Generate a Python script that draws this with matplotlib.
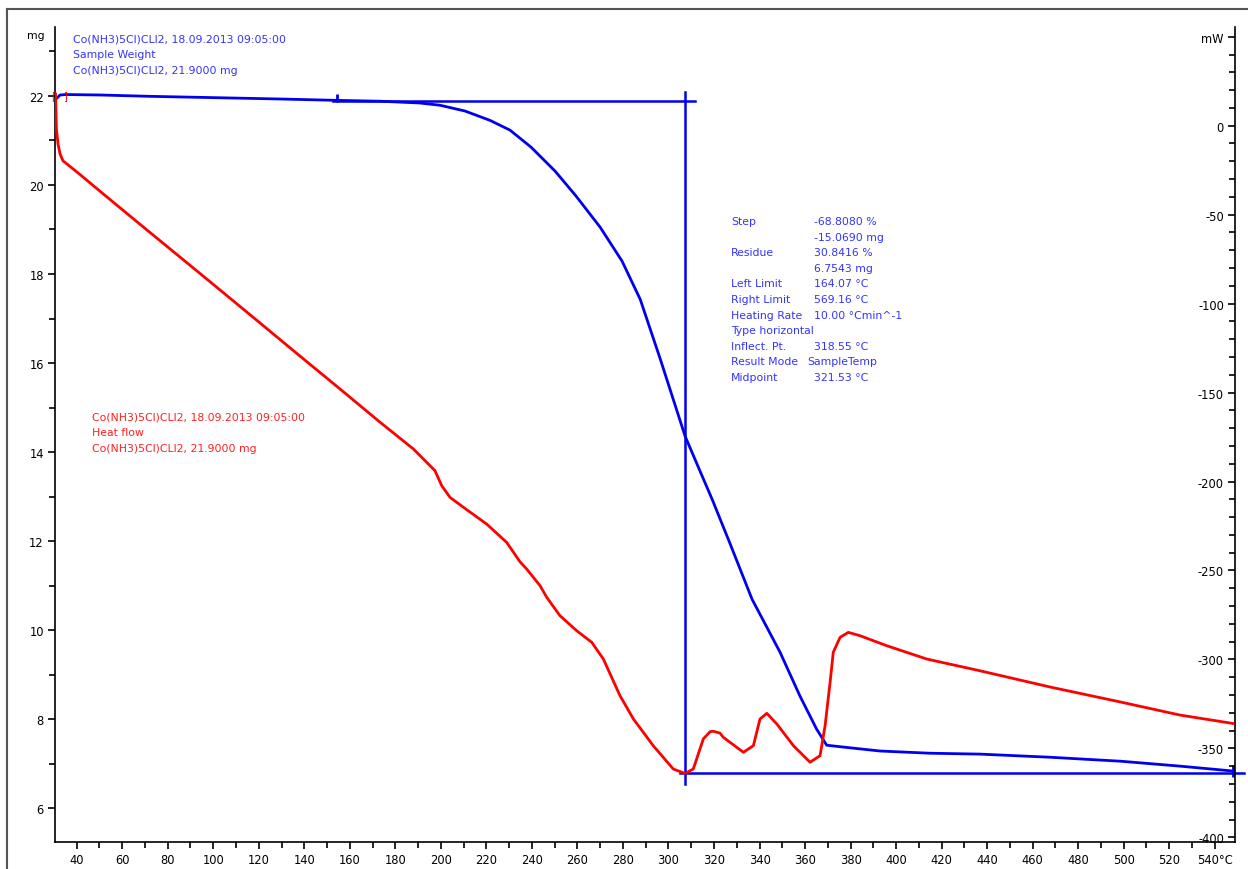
import matplotlib
matplotlib.use("Agg")
import matplotlib.pyplot as plt
from matplotlib.ticker import MultipleLocator, FixedLocator
from matplotlib.lines import Line2D

# ─── Data ─────────────────────────────────────────────────────────────────────
# TG curve (sample weight, mg)
tg_temp = [30.9, 32.7, 35.3, 50.2, 72.2, 100.8, 129.3, 153.9, 173.3, 190.8,
           199.6, 210.6, 221.6, 230.4, 239.6, 250.2, 259.4, 270.0, 279.6, 287.6,
           296.4, 307.3, 313.9, 319.2, 327.1, 336.7, 349.0, 357.8, 365.1, 369.5,
           378.3, 392.9, 414.9, 436.9, 467.6, 498.8, 524.8, 548.0]
tg_mass = [21.93, 22.02, 22.03, 22.02, 21.99, 21.96, 21.93, 21.90, 21.88, 21.84,
           21.79, 21.66, 21.45, 21.23, 20.85, 20.31, 19.75, 19.05, 18.29, 17.43,
           16.09, 14.36, 13.57, 12.94, 11.94, 10.70, 9.51, 8.52, 7.78, 7.42,
           7.37, 7.29, 7.24, 7.22, 7.15, 7.06, 6.95, 6.84]

# DSC curve (heat flow, mW)
hf_temp = [30.7, 31.1, 31.8, 32.7, 34.0, 35.7, 41.5, 50.2, 59.0, 67.8,
           94.2, 116.2, 138.1, 155.7, 173.3, 187.9, 197.4, 200.4, 204.0, 209.9,
           220.1, 228.9, 234.8, 237.7, 243.6, 246.5, 252.3, 259.7, 266.3, 271.4,
           278.7, 284.6, 293.3, 302.1, 307.3, 310.9, 315.3, 318.3, 319.7, 322.6,
           324.1, 332.9, 337.3, 340.2, 343.2, 347.6, 354.9, 362.2, 366.6, 368.8,
           371.0, 372.4, 375.4, 379.0, 384.2, 395.9, 413.5, 436.9, 467.6, 498.8,
           524.8, 548.0]
hf_power = [17.8, -1.9, -10.3, -15.9, -19.8, -21.5, -27.5, -36.8, -46.1, -55.4,
            -83.1, -106.3, -129.5, -148.0, -166.7, -181.7, -193.9, -202.4, -208.9, -214.5,
            -223.9, -234.2, -245.2, -249.2, -258.6, -265.1, -275.4, -283.9, -290.4, -299.8,
            -320.4, -333.5, -348.5, -361.6, -364.1, -361.6, -344.7, -340.6, -340.4, -341.4,
            -343.8, -352.2, -348.5, -333.5, -330.3, -336.3, -348.5, -357.8, -354.1, -337.3,
            -312.9, -296.0, -287.6, -284.8, -286.7, -292.3, -299.8, -306.4, -315.5, -324.0,
            -331.3, -336.0]

# Step evaluation (horizontal tangents and inflection line)
step_upper_t = [152.7, 311.7]
step_upper_m = 21.88
step_lower_t = [305.2, 552.9]
step_lower_m = 6.80
inflect_t = 307.3
inflect_m = [22.08, 6.55]

x_ticks = list(range(40, 541, 20))
x_labels = [str(t) for t in x_ticks[:-1]] + ["540°C"]
mw_ticks = list(range(-400, 51, 50))
mw_labels = [str(v) for v in mw_ticks[:-1]] + ["mW"]

result_keys = ["Step", "", "Residue", "", "Left Limit", "Right Limit", "Heating Rate",
               "Type horizontal", "Inflect. Pt.", "Result Mode", "Midpoint"]
result_vals = ["-68.8080 %", "-15.0690 mg", "30.8416 %", "6.7543 mg", "164.07 °C",
               "569.16 °C", "10.00 °Cmin^-1", "", "318.55 °C", "SampleTemp", "321.53 °C"]

BLUE = "#0000ee"
RED = "#ff0000"
TBLUE = "#3333ff"
TRED = "#ff2020"
FS = 7.8

W, H = 1248, 870
fig = plt.figure(figsize=(W / 100, H / 100), dpi=100)
fig.patch.set_facecolor("white")

def px(x, y):
    return x / W, 1 - y / H

# outer frame (partially visible in the screenshot)
fig.add_artist(Line2D([7 / W, 7 / W], [0, 1 - 10 / H], color="#555555", lw=1.5))
fig.add_artist(Line2D([7 / W, 1], [1 - 10 / H, 1 - 10 / H], color="#555555", lw=1.5))

ax = fig.add_axes([55 / W, 1 - 843.3 / H, (1235 - 55) / W, (843.3 - 28.3) / H])
ax.set_xlim(30.47, 548.9)
ax.set_ylim(5.24, 23.54)
ax2 = ax.twinx()
ax2.set_ylim(-402.8, 55.3)

for s in ["top", "right"]:
    ax.spines[s].set_visible(False)
for s in ["top", "right", "bottom"]:
    ax2.spines[s].set_visible(False)
ax2.spines["left"].set_position(("axes", 1.0))
ax2.yaxis.set_ticks_position("left")
ax2.yaxis.set_label_position("left")

# ticks
ax.xaxis.set_major_locator(FixedLocator(x_ticks))
ax.set_xticklabels(x_labels)
ax.xaxis.set_minor_locator(MultipleLocator(10))
ax.yaxis.set_major_locator(MultipleLocator(2))
ax.yaxis.set_minor_locator(MultipleLocator(1))
ax2.yaxis.set_major_locator(FixedLocator(mw_ticks))
ax2.set_yticklabels(mw_labels)
ax2.yaxis.set_minor_locator(MultipleLocator(10))

for a in (ax, ax2):
    a.tick_params(which="major", length=5, width=1.2, labelsize=8.3, pad=3,
                  colors="black")
    a.tick_params(which="minor", length=4, width=1.2)
ax.spines["left"].set_linewidth(1.2)
ax.spines["bottom"].set_linewidth(1.2)
ax2.spines["left"].set_linewidth(1.2)

# curves
ax.plot(tg_temp, tg_mass, color=BLUE, lw=2.0, zorder=3, solid_joinstyle="round")
ax2.plot(hf_temp, hf_power, color=RED, lw=2.0, zorder=3, solid_joinstyle="round")

# step evaluation lines
ax.plot(step_upper_t, [step_upper_m] * 2, color=BLUE, lw=1.8, zorder=2)
ax.plot(step_lower_t, [step_lower_m] * 2, color=BLUE, lw=1.8, zorder=2, clip_on=False)
ax.plot([inflect_t] * 2, inflect_m, color=BLUE, lw=1.8, zorder=2, clip_on=False)
ax.plot([step_upper_t[0] + 1.5], [step_upper_m + 0.07], marker="|", ms=6, mew=2,
        color=BLUE, zorder=4)
ax.plot([548.0], [step_lower_m + 0.05], marker="|", ms=8, mew=2, color=BLUE,
        zorder=4, clip_on=False)

# texts
fig.text(*px(36, 36), "mg", fontsize=FS, ha="center", va="center")

blue_head = ["Co(NH3)5Cl)CLl2, 18.09.2013 09:05:00", "Sample Weight",
             "Co(NH3)5Cl)CLl2, 21.9000 mg"]
for i, t in enumerate(blue_head):
    fig.text(*px(73, 40 + i * 15.5), t, fontsize=FS, color=TBLUE, va="center")

red_head = ["Co(NH3)5Cl)CLl2, 18.09.2013 09:05:00", "Heat flow",
            "Co(NH3)5Cl)CLl2, 21.9000 mg"]
for i, t in enumerate(red_head):
    fig.text(*px(92, 418 + i * 15.5), t, fontsize=FS, color=TRED, va="center")

for i, (k, v) in enumerate(zip(result_keys, result_vals)):
    y = 222 + i * 15.6
    fig.text(*px(731, y), k, fontsize=FS, color=TBLUE, va="center")
    if k == "Result Mode":
        fig.text(*px(807, y), v, fontsize=FS, color=TBLUE, va="center")
    elif v:
        fig.text(*px(814, y), v, fontsize=FS, color=TBLUE, va="center")

# small red range brackets at curve start
fig.text(*px(53, 96), "[", fontsize=7, color=RED, ha="center", va="center")
fig.text(*px(65, 96), "]", fontsize=7, color=RED, ha="center", va="center")

fig.savefig("out.png", dpi=100, facecolor="white")
